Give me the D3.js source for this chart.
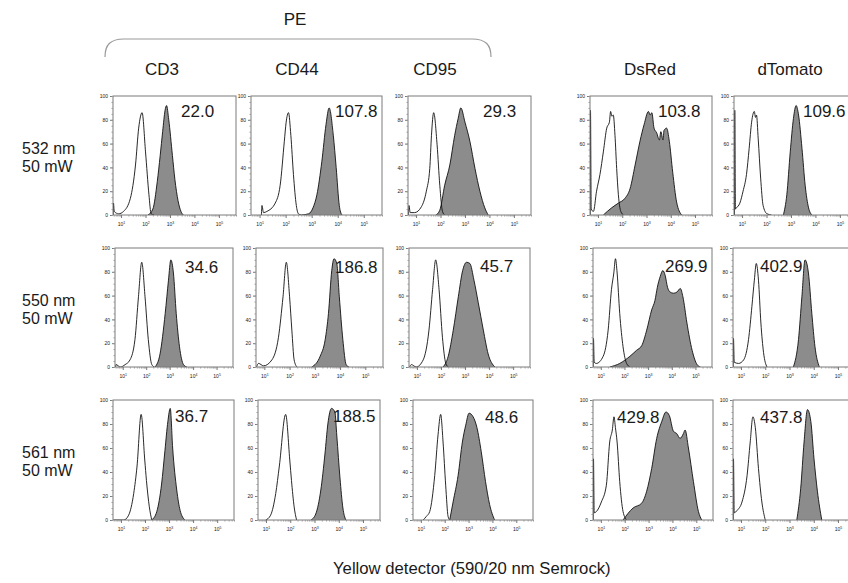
<!DOCTYPE html>
<html>
<head>
<meta charset="utf-8">
<script src="https://cdn.jsdelivr.net/npm/d3@7/dist/d3.min.js"></script>
<style>
body { margin: 0; background: #fff; }
text { font-family: "Liberation Sans", Arial, sans-serif; fill: #1a1a1a; }
</style>
</head>
<body>
<svg id="chart" width="848" height="583"></svg>
<script>
// ---- data ----
var columns = ["CD3", "CD44", "CD95", "DsRed", "dTomato"];
var groupLabel = "PE";
var lasers = ["532 nm", "550 nm", "561 nm"];
var laserPower = ["50 mW", "50 mW", "50 mW"];
var xTitle = "Yellow detector (590/20 nm Semrock)";
var yTicks = [0, 20, 40, 60, 80, 100];
var xTickPowers = [1, 2, 3, 4, 5];

// median fluorescence shown in each panel
var mfi532 = [22.0, 107.8, 29.3, 103.8, 109.6];
var mfi550 = [34.6, 186.8, 45.7, 269.9, 402.9];
var mfi561 = [36.7, 188.5, 48.6, 429.8, 437.8];

// histograms: [log10 intensity, % of max]
// open curves = unstained control, grey = stained
var unstained532 = [
  [[0.68,0],[0.69,10],[0.72,3],[0.9,1],[1.1,3],[1.38,14],[1.59,42],[1.72,73],[1.86,86],[2.0,53],[2.14,17],[2.23,1],[2.35,0]],
  [[1.07,0],[1.09,8],[1.15,2],[1.28,3],[1.6,10],[1.79,25],[1.95,62],[2.02,78],[2.11,86],[2.2,67],[2.3,34],[2.41,8],[2.49,1],[2.6,0]],
  [[0.69,0],[0.71,8],[0.76,2],[0.94,2],[1.22,7],[1.42,20],[1.56,39],[1.63,67],[1.72,86],[1.86,59],[1.97,25],[2.08,3],[2.17,0]],
  [[0.68,0],[0.69,88],[0.72,5],[0.81,3],[0.94,20],[1.08,34],[1.22,53],[1.36,73],[1.47,78],[1.52,87],[1.57,83],[1.63,84],[1.70,67],[1.77,39],[1.84,17],[1.94,3],[2.05,0]],
  [[0.69,0],[0.70,88],[0.73,5],[0.77,6],[0.91,10],[1.04,20],[1.18,34],[1.29,56],[1.39,78],[1.50,87],[1.55,82],[1.59,84],[1.66,64],[1.76,31],[1.86,8],[2.02,1],[2.2,0]]
];
var stained532 = [
  [[2.1,0],[2.3,5],[2.48,28],[2.6,50],[2.7,70],[2.8,88],[2.86,92],[2.95,80],[3.1,50],[3.2,30],[3.33,12],[3.45,3],[3.55,0]],
  [[2.6,0],[2.88,1],[3.05,6],[3.2,17],[3.39,45],[3.55,76],[3.67,90],[3.83,67],[3.94,40],[4.06,8],[4.16,0]],
  [[1.81,0],[1.97,4],[2.17,25],[2.38,42],[2.58,67],[2.72,81],[2.83,90],[3.0,78],[3.2,62],[3.41,39],[3.61,20],[3.81,6],[3.95,0]],
  [[1.22,0],[1.56,6],[1.84,10],[2.11,14],[2.32,22],[2.53,42],[2.73,62],[2.90,76],[3.08,87],[3.15,84],[3.22,86],[3.31,73],[3.42,69],[3.53,63],[3.59,70],[3.68,63],[3.72,71],[3.83,73],[3.94,62],[4.08,36],[4.24,11],[4.45,0]],
  [[2.69,0],[2.83,17],[2.97,53],[3.10,81],[3.21,92],[3.31,84],[3.45,56],[3.58,25],[3.72,6],[3.86,0]]
];
var unstained550 = [
  [[0.69,0],[0.71,2],[0.9,0],[1.1,2],[1.31,6],[1.52,23],[1.67,59],[1.81,88],[1.95,59],[2.09,23],[2.24,2],[2.35,0]],
  [[0.69,0],[0.77,3],[0.97,1],[1.30,6],[1.56,25],[1.74,59],[1.87,88],[2.0,59],[2.09,31],[2.18,6],[2.29,0]],
  [[0.69,0],[0.77,2],[0.97,0],[1.26,6],[1.50,31],[1.65,65],[1.78,90],[1.92,65],[2.06,25],[2.20,3],[2.30,0]],
  [[0.68,0],[0.69,24],[0.72,4],[0.81,3],[1.10,9],[1.31,31],[1.45,65],[1.55,79],[1.62,91],[1.69,79],[1.80,45],[1.94,17],[2.09,3],[2.23,0]],
  [[0.68,0],[0.69,24],[0.72,4],[0.90,3],[1.11,6],[1.31,23],[1.45,51],[1.55,73],[1.63,87],[1.72,73],[1.82,37],[1.93,12],[2.07,0]]
];
var stained550 = [
  [[2.38,0],[2.59,11],[2.81,45],[2.95,73],[3.05,90],[3.16,79],[3.28,45],[3.42,17],[3.59,2],[3.73,0]],
  [[2.88,0],[3.21,9],[3.41,23],[3.54,45],[3.67,81],[3.76,91],[3.87,87],[3.97,59],[4.11,23],[4.24,2],[4.35,0]],
  [[2.09,0],[2.30,9],[2.51,31],[2.72,59],[2.90,81],[3.06,88],[3.20,87],[3.37,73],[3.55,54],[3.76,31],[3.96,11],[4.24,0]],
  [[1.38,0],[1.80,3],[2.23,9],[2.51,14],[2.73,18],[2.94,31],[3.15,48],[3.29,56],[3.39,67],[3.51,76],[3.62,81],[3.72,77],[3.82,67],[3.93,63],[4.07,62],[4.22,63],[4.36,66],[4.47,59],[4.64,37],[4.86,14],[5.07,2],[5.21,0]],
  [[3.16,0],[3.37,23],[3.51,59],[3.64,90],[3.78,79],[3.92,45],[4.05,17],[4.23,0]]
];
var unstained561 = [
  [[0.69,0],[1.12,0],[1.32,4],[1.53,22],[1.67,45],[1.84,88],[1.99,50],[2.06,33],[2.18,11],[2.28,0]],
  [[0.99,0],[1.19,4],[1.40,22],[1.55,45],[1.81,88],[1.98,50],[2.05,33],[2.16,11],[2.26,0]],
  [[1.1,0],[1.23,3],[1.37,7],[1.58,37],[1.72,71],[1.83,88],[1.93,65],[2.04,29],[2.14,3],[2.21,0]],
  [[0.68,0],[0.69,51],[0.72,6],[0.81,7],[1.02,15],[1.23,29],[1.37,65],[1.48,75],[1.55,86],[1.61,77],[1.68,65],[1.79,32],[1.93,7],[2.08,0]],
  [[0.68,0],[0.69,51],[0.72,6],[0.84,8],[1.04,15],[1.25,37],[1.38,65],[1.49,86],[1.59,77],[1.72,43],[1.86,15],[2.0,0]]
];
var stained561 = [
  [[2.28,0],[2.49,7],[2.69,30],[2.83,58],[2.95,82],[3.05,93],[3.15,60],[3.32,25],[3.46,8],[3.66,0]],
  [[2.85,0],[3.05,5],[3.26,25],[3.43,55],[3.55,80],[3.70,93],[3.84,90],[3.92,70],[4.05,35],[4.17,10],[4.29,0]],
  [[2.21,0],[2.35,15],[2.56,37],[2.74,65],[2.88,79],[3.02,89],[3.19,86],[3.35,77],[3.53,57],[3.71,32],[3.88,13],[4.09,0]],
  [[1.93,0],[2.35,10],[2.71,14],[2.92,24],[3.13,43],[3.34,68],[3.55,82],[3.73,90],[3.87,87],[4.04,74],[4.18,72],[4.32,68],[4.46,72],[4.53,75],[4.67,60],[4.88,32],[5.09,7],[5.23,0]],
  [[3.30,0],[3.46,26],[3.60,65],[3.74,92],[3.88,82],[4.01,51],[4.15,24],[4.33,0]]
];

var unstained = [unstained532, unstained550, unstained561];
var stained = [stained532, stained550, stained561];
var mfi = [mfi532, mfi550, mfi561];

// ---- layout (pixels) ----
var rowTop = [96, 248, 400],
    rowBottom = [215, 367, 520];
var panelLeft = [[113, 251, 408, 590, 734],
                 [115, 256, 409, 593, 733],
                 [113, 258, 413, 593, 733]];
var panelRight = [[236, 382, 531, 712, 857],
                  [233, 383, 530, 712, 855],
                  [234, 380, 533, 713, 855]];
var labelPos = [[[181,117],[335,117],[483,117],[658,117],[803,117]],
                [[185,273],[335,273],[480,272],[665,272],[760,272]],
                [[175,422],[333,422],[485,423],[617,423],[760,423]]];
var headerX = [162, 297, 435, 650, 790];
var logDomain = [Math.pow(10, 0.67), Math.pow(10, 5.7)];

var svg = d3.select("#chart");

// column headers and PE bracket
svg.append("text").attr("x", 295).attr("y", 25).attr("text-anchor", "middle")
   .style("font-size", "17px").text(groupLabel);
svg.append("path")
   .attr("d", "M105,57 C105,45 110,39 124,39 L472,39 C486,39 491,45 491,57")
   .attr("fill", "none").attr("stroke", "#999").attr("stroke-width", 1.2);
columns.forEach(function(c, j){
  svg.append("text").attr("x", headerX[j]).attr("y", 75).attr("text-anchor", "middle")
     .style("font-size", "17px").text(c);
});

// row labels
lasers.forEach(function(l, i){
  var cy = (rowTop[i] + rowBottom[i]) / 2;
  svg.append("text").attr("x", 22).attr("y", cy - 2).style("font-size", "16px").text(l);
  svg.append("text").attr("x", 22).attr("y", cy + 16).style("font-size", "16px").text(laserPower[i]);
});

svg.append("text").attr("x", 333).attr("y", 574).style("font-size", "16.7px").text(xTitle);

// one histogram panel per laser x marker
lasers.forEach(function(l, i){
  columns.forEach(function(c, j){
    var L = panelLeft[i][j], R = panelRight[i][j], T = rowTop[i], B = rowBottom[i];

    var x = d3.scaleLog().domain(logDomain).range([L, R]);
    var y = d3.scaleLinear().domain([0, 100]).range([B, T]);

    var g = svg.append("g");
    var clipId = "clip" + i + "_" + j;
    g.append("clipPath").attr("id", clipId)
      .append("rect").attr("x", L).attr("y", T).attr("width", R - L).attr("height", B - T);

    var px = function(d){ return x(Math.pow(10, d[0])); };
    var area = d3.area().x(px).y0(B).y1(function(d){ return y(d[1]); }).curve(d3.curveMonotoneX);
    var line = d3.line().x(px).y(function(d){ return y(d[1]); }).curve(d3.curveMonotoneX);

    var plot = g.append("g").attr("clip-path", "url(#" + clipId + ")");
    plot.append("path").datum(stained[i][j]).attr("d", area).attr("fill", "#8c8c8c");
    plot.append("path").datum(stained[i][j]).attr("d", line)
        .attr("fill", "none").attr("stroke", "#111").attr("stroke-width", 0.9);
    plot.append("path").datum(unstained[i][j]).attr("d", line)
        .attr("fill", "none").attr("stroke", "#111").attr("stroke-width", 0.9);

    // frame
    g.append("rect").attr("x", L).attr("y", T).attr("width", R - L).attr("height", B - T)
      .attr("fill", "none").attr("stroke", "#7a7a7a").attr("stroke-width", 1);

    // y axis
    var yAxis = d3.axisLeft(y).tickValues(yTicks).tickSize(3).tickFormat(d3.format("d"));
    var ya = g.append("g").attr("transform", "translate(" + L + ",0)").call(yAxis);
    ya.select(".domain").remove();
    ya.selectAll("line").attr("stroke", "#777");
    ya.selectAll("text").style("font-size", "5px").attr("fill", "#555").attr("x", -5);
    var yMinor = d3.axisLeft(y).tickValues(d3.range(0, 101, 5)).tickSize(1.5).tickFormat("");
    var ym = g.append("g").attr("transform", "translate(" + L + ",0)").call(yMinor);
    ym.select(".domain").remove();
    ym.selectAll("line").attr("stroke", "#999");

    // x axis: decades with minor ticks
    var minor = [];
    for (var k = 0; k <= 5; k++) for (var m = 2; m <= 9; m++) {
      var v = m * Math.pow(10, k);
      if (v > logDomain[0] && v < logDomain[1]) minor.push(v);
    }
    var xm = g.append("g").attr("transform", "translate(0," + B + ")")
      .call(d3.axisBottom(x).tickValues(minor).tickSize(1.5).tickFormat(""));
    xm.select(".domain").remove();
    xm.selectAll("line").attr("stroke", "#999");
    var xa = g.append("g").attr("transform", "translate(0," + B + ")")
      .call(d3.axisBottom(x).tickValues(xTickPowers.map(function(p){ return Math.pow(10, p); })).tickSize(3).tickFormat(""));
    xa.select(".domain").remove();
    xa.selectAll("line").attr("stroke", "#777");
    xa.selectAll(".tick").append("text")
      .attr("y", 11).attr("text-anchor", "middle").attr("fill", "#555")
      .style("font-size", "5px")
      .each(function(d){
        var t = d3.select(this);
        t.append("tspan").text("10");
        t.append("tspan").attr("dy", -2.5).style("font-size", "3.5px")
          .text(Math.round(Math.log10(d)));
      });

    // MFI value
    svg.append("text").attr("x", labelPos[i][j][0]).attr("y", labelPos[i][j][1])
      .style("font-size", "17px").text(mfi[i][j].toFixed(1));
  });
});
</script>
</body>
</html>
